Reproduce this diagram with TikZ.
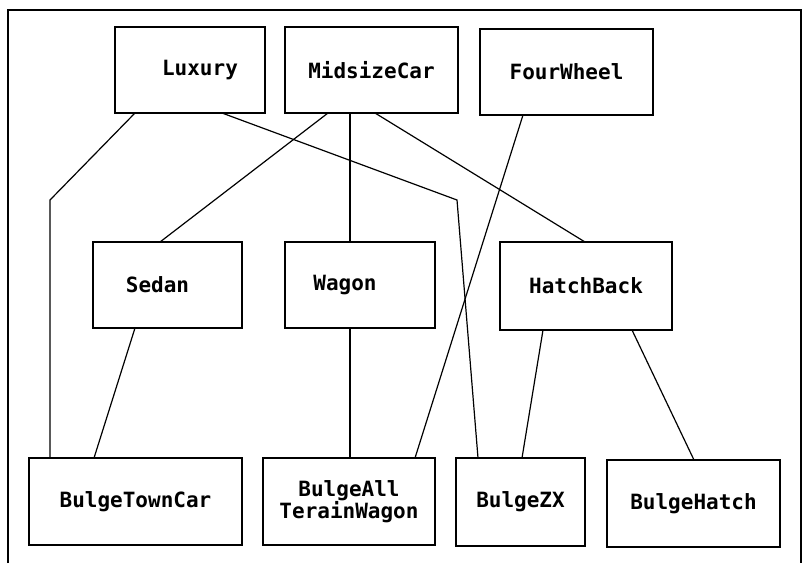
\documentclass[tikz,border=0pt]{standalone}
\usepackage{fontspec}
\setmonofont{DejaVu Sans Mono}
\begin{document}
\begin{tikzpicture}[x=1pt,y=-1pt,
  box/.style={draw=black,line width=1.8pt,inner sep=0pt,outer sep=0pt,
    font=\ttfamily\bfseries\fontsize{21}{22}\selectfont,align=center},
  link/.style={draw=black,line width=1.2pt}]
\useasboundingbox (0,0) rectangle (805,563);
\draw[line width=1.2pt] (8,563) -- (8,10) -- (801,10) -- (801,563);
% top row
\node[box,minimum width=150pt,minimum height=86pt] (lux) at (190,70) {\hspace*{20pt}Luxury};
\node[box,minimum width=173pt,minimum height=86pt] (mid) at (371.5,70) {MidsizeCar};
\node[box,minimum width=173pt,minimum height=86pt] (four) at (566.5,72) {FourWheel};
% middle row
\node[box,minimum width=149pt,minimum height=86pt] (sedan) at (167.5,285) {Sedan\hspace*{20pt}};
\node[box,minimum width=150pt,minimum height=86pt] (wagon) at (360,285) {Wagon\hspace*{30pt}};
\node[box,minimum width=172pt,minimum height=88pt] (hatch) at (586,286) {HatchBack};
% bottom row
\node[box,minimum width=213pt,minimum height=87pt] (btc) at (135.5,501.5) {BulgeTownCar};
\node[box,minimum width=172pt,minimum height=87pt] (baw) at (349,501.5) {BulgeAll\\TerainWagon};
\node[box,minimum width=129pt,minimum height=88pt] (bzx) at (520.5,502) {BulgeZX};
\node[box,minimum width=173pt,minimum height=87pt] (bh) at (693.5,503.5) {BulgeHatch};
% bend points
\coordinate (c1) at (50,200);
\coordinate (c2) at (457,200);
% connectors
\draw[link] ([xshift=20pt]lux.south west) -- (c1) -- ([xshift=21pt]btc.north west);
\draw[link] ([xshift=107pt]lux.south west) -- (c2) -- ([xshift=22pt]bzx.north west);
\draw[link] ([xshift=43pt]mid.south west) -- ([xshift=67pt]sedan.north west);
\draw[link] ([xshift=65pt]mid.south west) -- ([xshift=65pt]wagon.north west);
\draw[link] ([xshift=90pt]mid.south west) -- ([xshift=85pt]hatch.north west);
\draw[link] ([xshift=43pt]four.south west) -- ([xshift=152pt]baw.north west);
\draw[link] ([xshift=42pt]sedan.south west) -- ([xshift=65pt]btc.north west);
\draw[link] ([xshift=65pt]wagon.south west) -- ([xshift=87pt]baw.north west);
\draw[link] ([xshift=43pt]hatch.south west) -- ([xshift=66pt]bzx.north west);
\draw[link] ([xshift=132pt]hatch.south west) -- ([xshift=87pt]bh.north west);
\end{tikzpicture}
\end{document}
